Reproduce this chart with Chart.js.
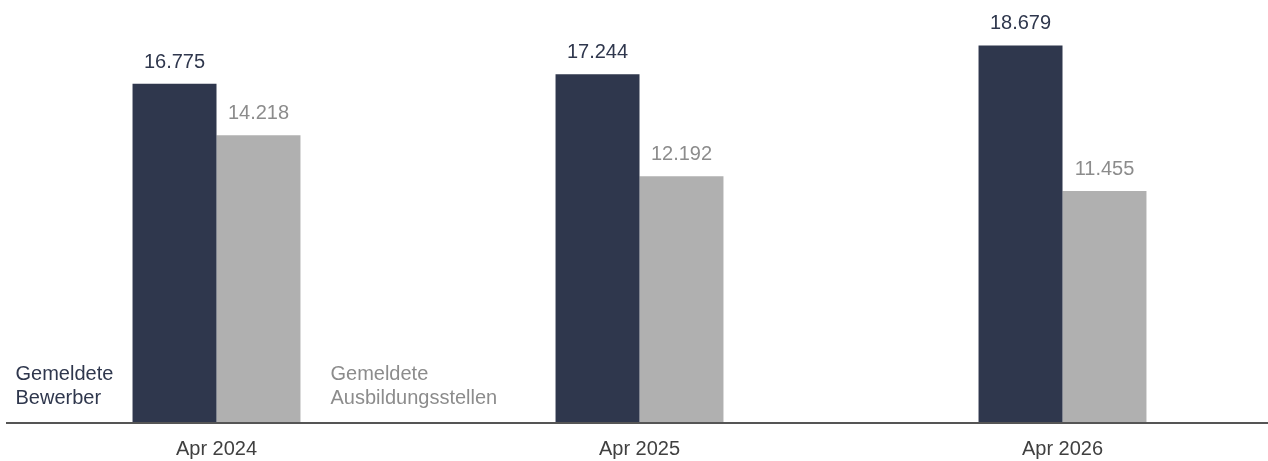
<!DOCTYPE html>
<html>
<head>
<meta charset="utf-8">
<script src="https://cdn.jsdelivr.net/npm/chart.js@4/dist/chart.umd.min.js"></script>
<style>
  html, body { margin: 0; padding: 0; background: #fff; overflow: hidden; }
  #chart { display: block; }
</style>
</head>
<body>
<canvas id="chart" width="1274" height="461"></canvas>
<script>
const categories = ["Apr 2024", "Apr 2025", "Apr 2026"];
const bewerber = [16775, 17244, 18679];
const stellen = [14218, 12192, 11455];
const seriesNames = [["Gemeldete", "Bewerber"], ["Gemeldete", "Ausbildungsstellen"]];

const DARK = "#2f374d";
const GRAY = "#b0b0b0";
const GRAY_TEXT = "#8c8c8c";
const FONT = "Arial, 'Liberation Sans', sans-serif";

function fmt(v) {
  return v.toLocaleString("de-DE");
}

// value labels, in-chart series names and the baseline
const labelPlugin = {
  id: "labels",
  afterDatasetsDraw(chart) {
    const ctx = chart.ctx;
    ctx.save();
    ctx.font = "20px " + FONT;
    ctx.textAlign = "center";
    ctx.textBaseline = "alphabetic";
    chart.data.datasets.forEach((ds, i) => {
      const meta = chart.getDatasetMeta(i);
      ctx.fillStyle = i === 0 ? DARK : GRAY_TEXT;
      meta.data.forEach((bar, j) => {
        ctx.fillText(fmt(ds.data[j]), bar.x, bar.y - 16);
      });
    });

    // series names next to the first group
    const b0 = chart.getDatasetMeta(0).data[0];
    const b1 = chart.getDatasetMeta(1).data[0];
    const bottom = chart.chartArea.bottom;
    ctx.textAlign = "left";
    ctx.fillStyle = DARK;
    ctx.fillText(seriesNames[0][0], b0.x - b0.width / 2 - 117, bottom - 42);
    ctx.fillText(seriesNames[0][1], b0.x - b0.width / 2 - 117, bottom - 18);
    ctx.fillStyle = GRAY_TEXT;
    ctx.fillText(seriesNames[1][0], b1.x + b1.width / 2 + 30, bottom - 42);
    ctx.fillText(seriesNames[1][1], b1.x + b1.width / 2 + 30, bottom - 18);

    // axis line
    ctx.strokeStyle = "#555555";
    ctx.lineWidth = 2;
    ctx.beginPath();
    ctx.moveTo(6, bottom + 1);
    ctx.lineTo(1268, bottom + 1);
    ctx.stroke();
    ctx.restore();
  }
};

new Chart(document.getElementById("chart").getContext("2d"), {
  type: "bar",
  data: {
    labels: categories,
    datasets: [
      { label: "Gemeldete Bewerber", data: bewerber, backgroundColor: DARK },
      { label: "Gemeldete Ausbildungsstellen", data: stellen, backgroundColor: GRAY }
    ]
  },
  options: {
    responsive: false,
    animation: false,
    devicePixelRatio: 1,
    categoryPercentage: 0.397,
    barPercentage: 1,
    layout: { padding: { left: 5, right: 0, top: 0, bottom: -15 } },
    plugins: {
      legend: { display: false },
      tooltip: { enabled: false }
    },
    scales: {
      x: {
        grid: { display: false, drawTicks: false },
        border: { display: false },
        ticks: {
          color: "#404040",
          font: { family: FONT, size: 20 },
          padding: 15,
          autoSkip: false,
          maxRotation: 0
        }
      },
      y: {
        display: false,
        min: 0,
        max: 20930
      }
    }
  },
  plugins: [labelPlugin]
});
</script>
</body>
</html>
